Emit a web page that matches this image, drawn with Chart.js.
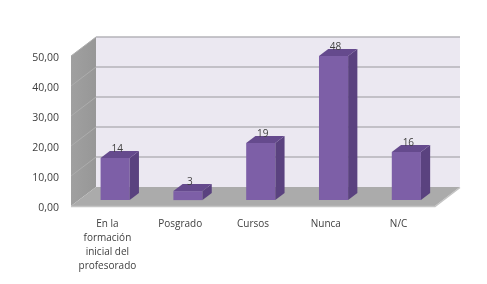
<!DOCTYPE html>
<html>
<head>
<meta charset="utf-8">
<script src="https://cdn.jsdelivr.net/npm/chart.js@4.4.1/dist/chart.umd.min.js"></script>
<style>
  html, body { margin: 0; padding: 0; background: #ffffff; }
  #wrap { width: 487px; height: 284px; }
</style>
</head>
<body>
<div id="wrap"><canvas id="chart" width="487" height="284"></canvas></div>
<script>
const categories = [
  ["En la", "formación", "inicial del", "profesorado"],
  "Posgrado",
  "Cursos",
  "Nunca",
  "N/C",
];
const values = [14, 3, 19, 48, 16];
const yTicks = [0, 10, 20, 30, 40, 50];

// depth of the 3D box (pixels) and where bars sit inside it
const DX = 25;
const DY = -19;
const barFront = 0.31;
const barBack = 0.68;

function poly(ctx, pts, fill) {
  ctx.beginPath();
  ctx.moveTo(pts[0][0], pts[0][1]);
  for (let i = 1; i < pts.length; i++) ctx.lineTo(pts[i][0], pts[i][1]);
  ctx.closePath();
  ctx.fillStyle = fill;
  ctx.fill();
}

const walls3d = {
  id: "walls3d",
  beforeDatasetsDraw(chart) {
    const ctx = chart.ctx;
    const y = chart.scales.y;
    const a = chart.chartArea;
    const top = y.getPixelForValue(yTicks[yTicks.length - 1]);
    const bot = y.getPixelForValue(0);
    ctx.save();
    // back wall
    poly(ctx, [[a.left + DX, top + DY], [a.right + DX, top + DY], [a.right + DX, bot + DY], [a.left + DX, bot + DY]], "#ebe8f1");
    // side wall
    const grad = ctx.createLinearGradient(a.left, 0, a.left + DX, 0);
    grad.addColorStop(0, "#a0a0a0");
    grad.addColorStop(1, "#979797");
    poly(ctx, [[a.left, top], [a.left + DX, top + DY], [a.left + DX, bot + DY], [a.left, bot]], grad);
    // floor
    poly(ctx, [[a.left, bot], [a.left + DX, bot + DY], [a.right + DX, bot + DY], [a.right, bot]], "#ababab");
    ctx.strokeStyle = "#c4c4c4";
    ctx.lineWidth = 1.5;
    ctx.beginPath();
    ctx.moveTo(a.left, bot + 0.5);
    ctx.lineTo(a.right, bot + 0.5);
    ctx.lineTo(a.right + DX, bot + DY + 0.5);
    ctx.stroke();
    // gridlines
    yTicks.forEach((v) => {
      if (v === 0) return;
      const py = y.getPixelForValue(v);
      ctx.strokeStyle = "#b5b3b9";
      ctx.lineWidth = 1.5;
      ctx.beginPath();
      ctx.moveTo(a.left + DX, py + DY);
      ctx.lineTo(a.right + DX, py + DY);
      ctx.stroke();
      ctx.strokeStyle = "#adadad";
      ctx.lineWidth = 1;
      ctx.beginPath();
      ctx.moveTo(a.left, py);
      ctx.lineTo(a.left + DX, py + DY);
      ctx.stroke();
    });
    ctx.restore();
  },
  afterDatasetsDraw(chart) {
    const ctx = chart.ctx;
    const meta = chart.getDatasetMeta(0);
    ctx.save();
    meta.data.forEach((bar, i) => {
      const w = bar.width;
      const x0 = bar.x - w / 2 + barFront * DX;
      const x1 = x0 + w;
      const yt = bar.y + barFront * DY;
      const yb = bar.base + barFront * DY;
      const dx = (barBack - barFront) * DX;
      const dy = (barBack - barFront) * DY;
      // front
      poly(ctx, [[x0, yt], [x1, yt], [x1, yb], [x0, yb]], "#7d5fa7");
      // side
      poly(ctx, [[x1, yt], [x1 + dx, yt + dy], [x1 + dx, yb + dy], [x1, yb]], "#5a427f");
      // top
      poly(ctx, [[x0, yt], [x0 + dx, yt + dy], [x1 + dx, yt + dy], [x1, yt]], "#654a8d");
      // value label
      ctx.fillStyle = "#404040";
      ctx.font = "10px 'Open Sans', sans-serif";
      ctx.textAlign = "center";
      ctx.textBaseline = "bottom";
      ctx.fillText(String(values[i]), (x0 + x1) / 2 + 2, yt + dy + 3);
    });
    ctx.restore();
  },
};

new Chart(document.getElementById("chart"), {
  type: "bar",
  data: {
    labels: categories,
    datasets: [
      {
        data: values,
        backgroundColor: "rgba(0,0,0,0)",
        borderWidth: 0,
        barPercentage: 0.8,
        categoryPercentage: 0.5,
      },
    ],
  },
  options: {
    responsive: false,
    animation: false,
    layout: { padding: { left: 0, top: 56, right: 52, bottom: 0 } },
    plugins: {
      legend: { display: false },
      tooltip: { enabled: false },
    },
    scales: {
      x: {
        grid: { display: false },
        border: { display: false },
        ticks: {
          color: "#404040",
          font: { family: "'Open Sans', sans-serif", size: 10, lineHeight: 1.4 },
          padding: 3,
          maxRotation: 0,
          autoSkip: false,
        },
        afterFit(scale) { scale.height = 78; },
      },
      y: {
        min: 0,
        max: 50,
        grid: { display: false },
        border: { display: false },
        ticks: {
          stepSize: 10,
          color: "#404040",
          font: { family: "'Open Sans', sans-serif", size: 10.5 },
          padding: 4,
          labelOffset: 2,
          callback: (v) => v.toFixed(2).replace(".", ","),
        },
        afterFit(scale) { scale.width = 71; },
      },
    },
  },
  plugins: [walls3d],
});
</script>
</body>
</html>
